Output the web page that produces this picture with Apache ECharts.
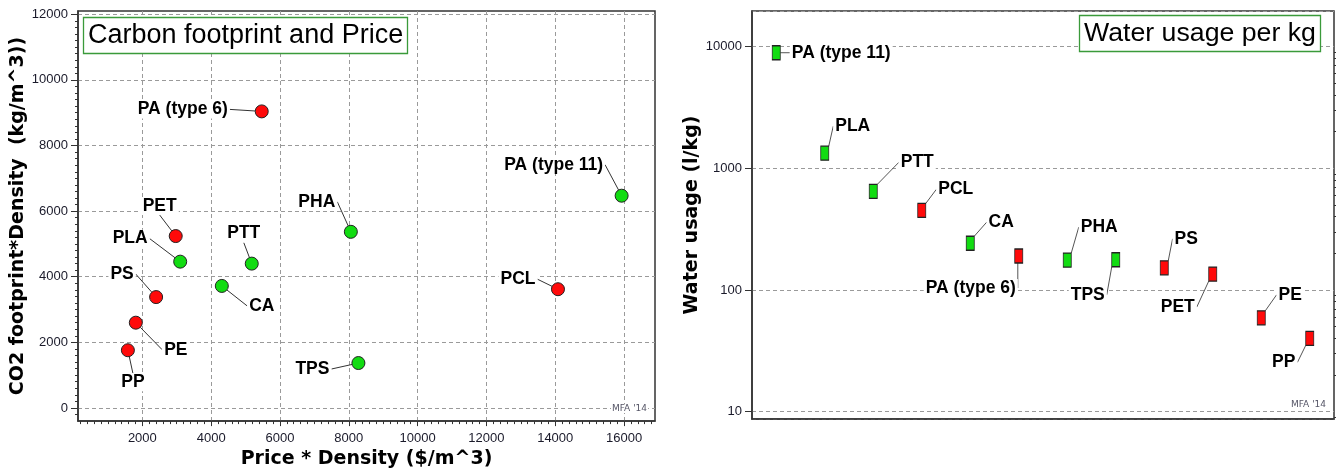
<!DOCTYPE html>
<html><head><meta charset="utf-8">
<script src="https://cdn.jsdelivr.net/npm/echarts@6/dist/echarts.min.js"></script>
<style>html,body{margin:0;padding:0;background:#fff}#c{width:1336px;height:474px}</style>
</head><body><div id="c"></div>
<script>
// ---------- Left chart data: Carbon footprint and Price ----------
const materials1   = ['PA (type 6)','PET','PLA','PTT','PHA','CA','PS','PE','PP','TPS','PA (type 11)','PCL'];
const priceDensity = [5470, 2970, 3100, 5180, 8060, 4310, 2400, 1810, 1580, 8280, 15930, 14080];
const co2Density   = [9040, 5240, 4460, 4400, 5370, 3720, 3380, 2600, 1760, 1370, 6470, 3620];
const bioBased1    = [false,false,true,true,true,true,false,false,false,true,true,false];
const xTickValues1 = [2000, 4000, 6000, 8000, 10000, 12000, 14000, 16000];
const yTickValues1 = [0, 2000, 4000, 6000, 8000, 10000, 12000];

// ---------- Right chart data: Water usage per kg ----------
const materials2   = ['PA (type 11)','PLA','PTT','PCL','CA','PA (type 6)','PHA','TPS','PS','PET','PE','PP'];
const waterUsage   = [8900, 1330, 645, 450, 242, 190, 176, 177, 152, 135, 59, 40];
const bioBased2    = [true,true,true,false,true,false,true,true,false,false,false,false];
const yTickValues2 = [10, 100, 1000, 10000];

// ---------- layout (label offsets in px) ----------
const labelOffsets1 = [[-79,-2],[-16,-30],[-50,-23],[-8,-30],[-34,-30],[40,20],[-34,-23],[40,27],[5,32],[-46,6],[-68,-31],[-40,-10]];
const labelOffsets2 = [[65,0],[28,-27],[44,-29],[34,-21],[31,-21],[-48,32],[32,-33],[-28,35],[22,-29],[-35,33],[29,-23],[-26,24]];

const GREEN = '#12dc12', RED = '#ff0a0a';
const AXIS = '#333';
const GRIDC = '#9a9a9a';
const NAMEFONT = {fontFamily:'DejaVu Sans', fontWeight:'bold', fontSize:19, color:'#000'};
const TICKFONT = {fontFamily:'Liberation Sans', fontSize:13, color:'#1a1a2a'};

const yMin2 = 8.7, yMax2 = 19600;
const minorVals2 = [];
[1,10,100,1000,10000].forEach(d => { for (let k = 2; k <= 9; k++) { const v = d*k; if (v > yMin2 && v < yMax2) minorVals2.push(v); } });

const labelBase = {
  show: true, position: 'inside', formatter: p => p.name,
  color: '#000', fontFamily: 'Liberation Sans', fontWeight: 'bold', fontSize: 17.5,
  backgroundColor: '#fff', padding: [0, 2]
};

const chart = echarts.init(document.getElementById('c'), null, {renderer:'canvas'});
chart.setOption({
  animation: false,
  backgroundColor: '#fff',
  title: [
    {text:'Carbon footprint and Price', left:83, top:17, padding:[4,5],
     backgroundColor:'#fff', borderColor:'#3a9a3a', borderWidth:1.3,
     textStyle:{fontFamily:'Liberation Sans', fontWeight:'normal', fontSize:27, color:'#000', lineHeight:29}},
    {text:'Water usage per kg', left:1079, top:15, padding:[4,5],
     backgroundColor:'#fff', borderColor:'#3a9a3a', borderWidth:1.3,
     textStyle:{fontFamily:'Liberation Sans', fontWeight:'normal', fontSize:26.7, color:'#000', lineHeight:29}}
  ],
  grid: [
    {left:78, top:11, width:577, height:411, show:true, borderColor:AXIS, borderWidth:1.5, backgroundColor:'transparent'},
    {left:752, top:11, width:582, height:408, show:true, borderColor:AXIS, borderWidth:1.5, backgroundColor:'transparent'}
  ],
  xAxis: [
    {type:'value', gridIndex:0, min:130, max:16900, splitNumber:8,
     name:'Price * Density ($/m^3)', nameLocation:'middle', nameGap:26, nameTextStyle:NAMEFONT,
     axisLine:{show:true, onZero:false, lineStyle:{color:AXIS, width:1.5}},
     axisTick:{show:true, length:5, customValues:xTickValues1, lineStyle:{color:AXIS}},
     minorTick:{show:true, splitNumber:10, length:3, lineStyle:{color:AXIS}},
     axisLabel:{customValues:xTickValues1, formatter:v=>String(v), margin:11, ...TICKFONT},
     splitLine:{show:true, lineStyle:{color:GRIDC, type:[4,3], width:1}}},
    {type:'category', gridIndex:1, data:materials2, boundaryGap:true,
     axisLine:{show:true, lineStyle:{color:AXIS, width:1.5}},
     axisTick:{show:false}, axisLabel:{show:false}, splitLine:{show:false}}
  ],
  yAxis: [
    {type:'value', gridIndex:0, min:-400, max:12100, splitNumber:6,
     name:'CO2 footprint*Density  (kg/m^3))', nameLocation:'middle', nameGap:42, nameTextStyle:NAMEFONT,
     axisLine:{show:true, onZero:false, lineStyle:{color:AXIS, width:1.5}},
     axisTick:{show:true, length:7, customValues:yTickValues1, lineStyle:{color:AXIS}},
     minorTick:{show:true, splitNumber:10, length:3, lineStyle:{color:AXIS}},
     axisLabel:{customValues:yTickValues1, formatter:v=>String(v), margin:10, ...TICKFONT},
     splitLine:{show:true, lineStyle:{color:GRIDC, type:[4,3], width:1}}},
    {type:'log', gridIndex:1, min:yMin2, max:yMax2, logBase:10,
     name:'Water usage (l/kg)', nameLocation:'middle', nameGap:48, nameTextStyle:NAMEFONT,
     axisLine:{show:true, onZero:false, lineStyle:{color:AXIS, width:1.5}},
     axisTick:{show:true, length:7, lineStyle:{color:AXIS}},
     axisLabel:{showMinLabel:false, showMaxLabel:false, margin:10,
                formatter:v=> (yTickValues2.indexOf(Math.round(v))>=0 ? String(Math.round(v)) : ''), ...TICKFONT},
     splitLine:{show:true, lineStyle:{color:GRIDC, type:[4,3], width:1}}},
    // minor ticks of the log axis (decoration only)
    {type:'value', gridIndex:1, min:Math.log10(yMin2), max:Math.log10(yMax2),
     axisLine:{show:false}, axisLabel:{show:false}, splitLine:{show:false},
     axisTick:{show:true, length:3, customValues:minorVals2.map(v=>Math.log10(v)), lineStyle:{color:AXIS}}}
  ],
  graphic: [
    {type:'text', left:611, top:404, z:50, style:{text:"MFA '14", fontSize:9, fontFamily:'DejaVu Sans', fill:'#556', backgroundColor:'#fff', padding:[0,1]}},
    {type:'text', left:1290, top:400, z:50, style:{text:"MFA '14", fontSize:9, fontFamily:'DejaVu Sans', fill:'#556', backgroundColor:'#fff', padding:[0,1]}}
  ],
  series: [
    {type:'scatter', xAxisIndex:0, yAxisIndex:0, symbol:'circle', symbolSize:13,
     data: materials1.map((n,i)=>({name:n, value:[priceDensity[i], co2Density[i]],
           itemStyle:{color: bioBased1[i]?GREEN:RED, borderColor:'#222', borderWidth:1, opacity:1}})),
     label: labelBase,
     labelLine:{show:true, lineStyle:{color:'#333', width:1}},
     labelLayout: p => ({dx: labelOffsets1[p.dataIndex][0], dy: labelOffsets1[p.dataIndex][1], hideOverlap:false})},
    {type:'scatter', xAxisIndex:1, yAxisIndex:1, symbol:'rect', symbolSize:[8,14],
     data: materials2.map((n,i)=>({name:n, value:waterUsage[i],
           itemStyle:{color: bioBased2[i]?GREEN:RED, borderColor:'#222', borderWidth:1, opacity:1}})),
     label: labelBase,
     labelLine:{show:true, lineStyle:{color:'#555', width:1}},
     labelLayout: p => ({dx: labelOffsets2[p.dataIndex][0], dy: labelOffsets2[p.dataIndex][1], hideOverlap:false})}
  ]
});
</script></body></html>
